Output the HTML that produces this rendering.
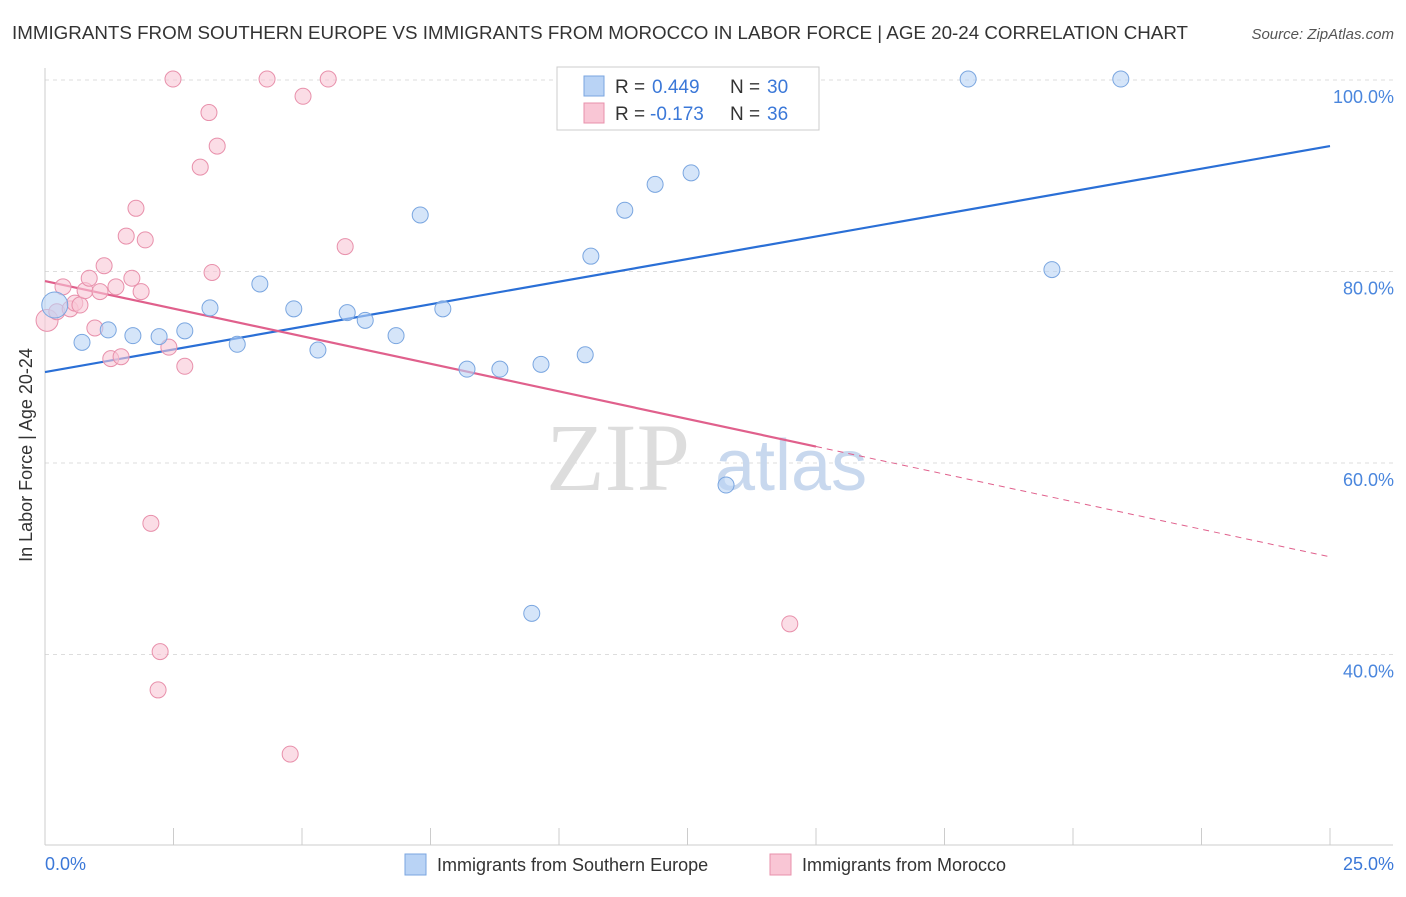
<!DOCTYPE html>
<html><head><meta charset="utf-8"><style>
body{margin:0;background:#fff;font-family:"Liberation Sans",sans-serif;}
</style></head><body>
<svg width="1406" height="892" xmlns="http://www.w3.org/2000/svg">
<text x="12" y="39" font-size="18" fill="#333" textLength="1176" lengthAdjust="spacingAndGlyphs">IMMIGRANTS FROM SOUTHERN EUROPE VS IMMIGRANTS FROM MOROCCO IN LABOR FORCE | AGE 20-24 CORRELATION CHART</text>
<text x="1394" y="39" font-size="15" fill="#555" font-style="italic" text-anchor="end">Source: ZipAtlas.com</text>
<g id="grid"></g>
<text x="690" y="490" font-size="96" fill="#ddd" font-family="Liberation Serif,serif" text-anchor="end">ZIP</text>
<text x="715" y="490" font-size="72" fill="#c8d8ee">atlas</text>
<g id="trend"></g>
<g id="pts"></g>
<text x="32" y="455" font-size="18" fill="#333" text-anchor="middle" transform="rotate(-90 32 455)">In Labor Force | Age 20-24</text>
<text x="45" y="870" font-size="18" fill="#3b78d8">0.0%</text>
<text x="1394" y="870" font-size="18" fill="#3b78d8" text-anchor="end">25.0%</text>
<g>
<rect x="557" y="67" width="262" height="63" fill="#fff" stroke="#ccc"/>
<rect x="584" y="76" width="20" height="20" fill="#b9d3f5" stroke="#7aa6e0"/>
<rect x="584" y="103" width="20" height="20" fill="#f9c6d5" stroke="#e890ab"/>
<text x="615" y="93" font-size="19" fill="#333">R =</text>
<text x="652" y="93" font-size="19" fill="#3b78d8">0.449</text>
<text x="730" y="93" font-size="19" fill="#333">N =</text>
<text x="767" y="93" font-size="19" fill="#3b78d8">30</text>
<text x="615" y="120" font-size="19" fill="#333">R =</text>
<text x="650" y="120" font-size="19" fill="#3b78d8">-0.173</text>
<text x="730" y="120" font-size="19" fill="#333">N =</text>
<text x="767" y="120" font-size="19" fill="#3b78d8">36</text>
</g>
<g>
<rect x="405" y="854" width="21" height="21" fill="#b9d3f5" stroke="#7aa6e0"/>
<text x="437" y="871" font-size="18" fill="#333">Immigrants from Southern Europe</text>
<rect x="770" y="854" width="21" height="21" fill="#f9c6d5" stroke="#e890ab"/>
<text x="802" y="871" font-size="18" fill="#333">Immigrants from Morocco</text>
</g>
</svg>
<script>
const blueX=[0.19,0.72,1.23,1.71,2.22,2.72,3.21,3.74,4.18,4.84,5.31,5.88,6.23,6.83,7.30,7.74,8.21,8.85,9.65,10.51,10.62,11.28,11.87,12.57,13.25,9.47,17.96,19.59,20.93,13.72];
const blueY=[76.5,72.6,73.9,73.3,73.2,73.8,76.2,72.4,78.7,76.1,71.8,75.7,74.9,73.3,85.9,76.1,69.8,69.8,70.3,71.3,81.6,86.4,89.1,90.3,57.7,44.3,100.1,80.2,100.1,100.1];
const pinkX=[0.04,0.23,0.35,0.49,0.58,0.68,0.78,0.86,0.97,1.07,1.15,1.28,1.38,1.48,1.58,1.69,1.77,1.87,1.95,2.06,2.24,2.20,2.41,2.49,2.72,3.02,3.19,3.25,3.35,4.32,4.77,5.02,5.51,5.84,14.49];
const pinkY=[74.9,75.8,78.4,76.1,76.7,76.5,78.0,79.3,74.1,77.9,80.6,70.9,78.4,71.1,83.7,79.3,86.6,77.9,83.3,53.7,40.3,36.3,72.1,100.1,70.1,90.9,96.6,79.9,93.1,100.1,29.6,98.3,100.1,82.6,43.2];
const yTicks=[100,80,60,40];
const yTickLabels=["100.0%","80.0%","60.0%","40.0%"];
const xTicks=[0,2.5,5,7.5,10,12.5,15,17.5,20,22.5,25];
const blueTrend=[69.5,93.1];
const pinkTrend=[79.0,50.2];
const pinkSolidEnd=15.0;
const NS="http://www.w3.org/2000/svg";
const sx=v=>45+v*51.4, sy=v=>80+(100-v)*9.575;
function mk(p,t,a){const e=document.createElementNS(NS,t);for(const k in a)e.setAttribute(k,a[k]);p.appendChild(e);return e;}
const g=document.getElementById('grid');
yTicks.forEach((t,i)=>{
 const l=mk(g,'line',{x1:45,x2:1393,y1:sy(t),y2:sy(t),stroke:'#ddd','stroke-dasharray':'4,4'});
 
 
 const tx=mk(g,'text',{x:1394,y:sy(t)+23,'font-size':18,fill:'#4a86dd','text-anchor':'end'});
 tx.textContent=yTickLabels[i];
 
 
});
mk(g,'line',{x1:45,x2:45,y1:68,y2:845,stroke:'#ccc'});
mk(g,'line',{x1:45,x2:1393,y1:845,y2:845,stroke:'#ccc'});
xTicks.forEach(t=>{const l=mk(g,'line',{x1:sx(t),x2:sx(t),y1:828,y2:845,stroke:'#ccc'});
 
 });
const tr=document.getElementById('trend');
const pm=v=>pinkTrend[0]+(pinkTrend[1]-pinkTrend[0])*v/25;
let l1=mk(tr,'line',{x1:sx(0),y1:sy(blueTrend[0]),x2:sx(25),y2:sy(blueTrend[1]),stroke:'#2a6fd6','stroke-width':2.2});


let l2=mk(tr,'line',{x1:sx(0),y1:sy(pm(0)),x2:sx(pinkSolidEnd),y2:sy(pm(pinkSolidEnd)),stroke:'#e0608c','stroke-width':2.2});


let l3=mk(tr,'line',{x1:sx(pinkSolidEnd),y1:sy(pm(pinkSolidEnd)),x2:sx(25),y2:sy(pm(25)),stroke:'#e0608c','stroke-width':1,'stroke-dasharray':'6,5'});


const pg=document.getElementById('pts');
pinkX.forEach((x,i)=>{const c=mk(pg,'circle',{cx:sx(x),cy:sy(pinkY[i]),r:i===0?11:8,fill:'#f9c6d5','fill-opacity':0.6,stroke:'#e890ab'});
 
 });
blueX.forEach((x,i)=>{const c=mk(pg,'circle',{cx:sx(x),cy:sy(blueY[i]),r:i===0?13:8,fill:'#b9d3f5','fill-opacity':0.6,stroke:'#7aa6e0'});
 
 });
</script>
</body></html>
